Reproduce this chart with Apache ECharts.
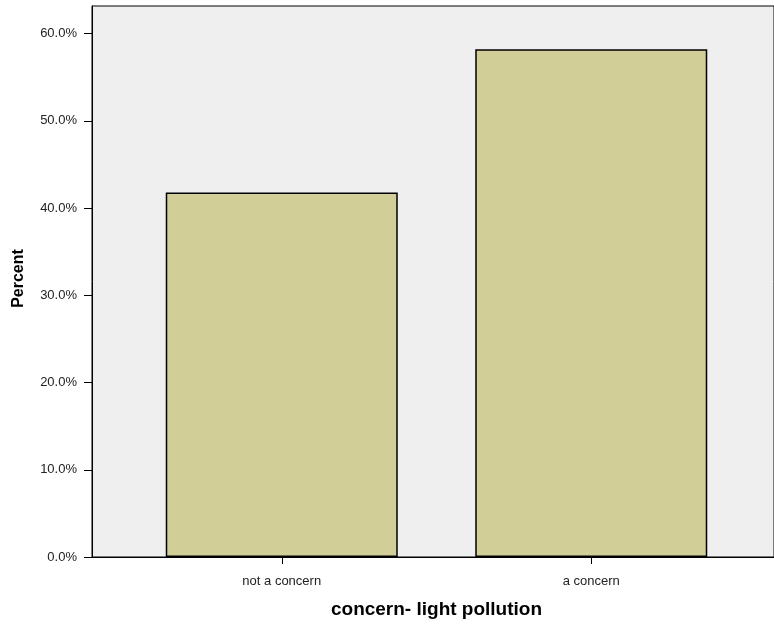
<!DOCTYPE html>
<html>
<head>
<meta charset="utf-8">
<script src="https://cdn.jsdelivr.net/npm/echarts@6/dist/echarts.min.js"></script>
<style>
html,body{margin:0;padding:0;background:#fff;}
#chart{width:774px;height:628px;}
</style>
</head>
<body>
<div id="chart"></div>
<script>
var categories = ['not a concern', 'a concern'];
var percentValues = [41.8, 58.2];
var yTickValues = [0, 10, 20, 30, 40, 50, 60];

var FONT = '"Liberation Sans", Arial, Helvetica, sans-serif';
var chart = echarts.init(document.getElementById('chart'), null, {renderer: 'canvas'});
var option = {
  animation: false,
  backgroundColor: '#ffffff',
  grid: [
    {left: 92, right: -2, top: 6, bottom: 71, show: true, backgroundColor: '#efefef', borderColor: '#000', borderWidth: 1},
    {left: 127, right: 28, top: 6, bottom: 71}
  ],
  xAxis: [
    {type: 'value', gridIndex: 0, min: 0, max: 1, axisLine: {show: true, onZero: false, lineStyle: {color: '#000', width: 1}},
     axisTick: {show: false}, axisLabel: {show: false}, splitLine: {show: false}},
    {type: 'category', gridIndex: 1, data: categories, axisLine: {show: false},
     axisTick: {show: true, alignWithLabel: true, length: 7, lineStyle: {color: '#000', width: 1}},
     axisLabel: {fontFamily: FONT, fontSize: 13, color: '#222', margin: 18},
     name: 'concern- light pollution', nameLocation: 'middle', nameGap: 43,
     nameTextStyle: {fontFamily: FONT, fontSize: 19, fontWeight: 'bold', color: '#000'}}
  ],
  yAxis: [
    {type: 'value', gridIndex: 0, min: 0, max: 63.17,
     axisLine: {show: true, onZero: false, lineStyle: {color: '#000', width: 1}},
     axisTick: {show: true, length: 8, customValues: yTickValues, lineStyle: {color: '#000', width: 1}},
     axisLabel: {customValues: yTickValues, fontFamily: FONT, fontSize: 13, color: '#222', margin: 15,
       formatter: function (v) { return v.toFixed(1) + '%'; }},
     splitLine: {show: false},
     name: 'Percent', nameLocation: 'middle', nameGap: 65, nameRotate: 90,
     nameTextStyle: {fontFamily: FONT, fontSize: 16, fontWeight: 'bold', color: '#000', padding: [0, 0, 0, 6]}},
    {type: 'value', gridIndex: 1, min: 0, max: 63.17, show: false}
  ],
  series: [{
    type: 'bar', xAxisIndex: 1, yAxisIndex: 1, data: percentValues, barWidth: 232,
    itemStyle: {color: '#d2ce98', borderColor: '#000', borderWidth: 1.5}
  }]
};
chart.setOption(option);
</script>
</body>
</html>
